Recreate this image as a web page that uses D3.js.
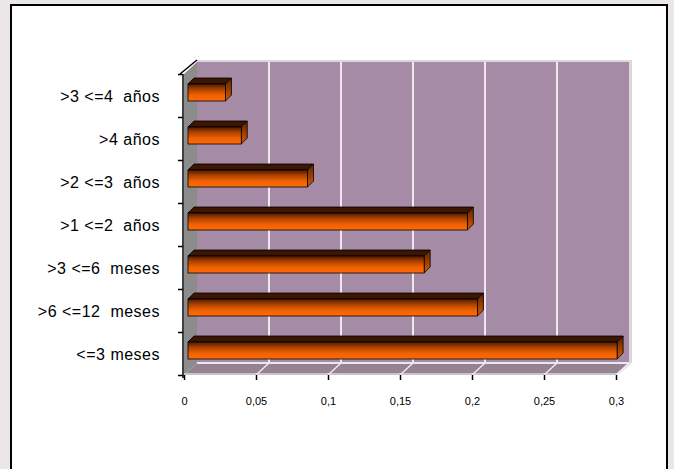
<!DOCTYPE html>
<html>
<head>
<meta charset="utf-8">
<script src="https://cdn.jsdelivr.net/npm/d3@7"></script>
<style>
  html, body { margin: 0; padding: 0; background: #ebe7e7; }
  svg { display: block; font-family: "Liberation Sans", Arial, sans-serif; }
</style>
</head>
<body>
<div id="chart"></div>
<script>
// categories, top to bottom as drawn
var categories = [">3 <=4  años", ">4 años", ">2 <=3  años", ">1 <=2  años",
                  ">3 <=6  meses", ">6 <=12  meses", "<=3 meses"];
var values = [0.026, 0.037, 0.083, 0.194, 0.164, 0.201, 0.298];
var xTicks = [0, 0.05, 0.1, 0.15, 0.2, 0.25, 0.3];

var width = 674
  , height = 469
  , front = { left: 184, right: 616, top: 74, bottom: 375 }
  , depth = { dx: 13, dy: -12 }      // offset of the back wall
  , barOff = { dx: 4, dy: -3 }       // bars sit a little behind the front plane
  , barDepth = { dx: 6, dy: -6 }
  , svg = d3.select("#chart").append("svg")
      .attr("width", width)
      .attr("height", height);

var locale = d3.formatLocale({ decimal: ",", thousands: ".", grouping: [3], currency: ["", "€"] })
  , fmt = locale.format("~g");

var x = d3.scaleLinear().domain([0, 0.3]).range([front.left, front.right]);
var y = d3.scaleBand().domain(categories).range([front.top, front.bottom]);
var yEdge = d3.scaleLinear().domain([0, categories.length]).range([front.top, front.bottom]);

// white card with black frame (bottom edge falls outside the picture)
svg.append("rect")
  .attr("x", 11).attr("y", 5)
  .attr("width", 656).attr("height", 480)
  .attr("fill", "#fff")
  .attr("stroke", "#000")
  .attr("stroke-width", 2);

var defs = svg.append("defs");
var g1 = defs.append("linearGradient").attr("id", "barFront")
  .attr("x1", 0).attr("y1", 0).attr("x2", 0).attr("y2", 1);
g1.append("stop").attr("offset", "0%").attr("stop-color", "#4a1a00");
g1.append("stop").attr("offset", "30%").attr("stop-color", "#a84000");
g1.append("stop").attr("offset", "65%").attr("stop-color", "#ee6000");
g1.append("stop").attr("offset", "100%").attr("stop-color", "#ff6c0a");
var g2 = defs.append("linearGradient").attr("id", "barSide")
  .attr("x1", 0).attr("y1", 0).attr("x2", 0).attr("y2", 1);
g2.append("stop").attr("offset", "0%").attr("stop-color", "#5a2200");
g2.append("stop").attr("offset", "100%").attr("stop-color", "#d85a00");

function pts(a) { return a.map(function(p) { return p[0] + "," + p[1]; }).join(" "); }

// back wall
var bw = { left: front.left + depth.dx, right: front.right + depth.dx,
           top: front.top + depth.dy, bottom: front.bottom + depth.dy };
svg.append("rect")
  .attr("x", bw.left).attr("y", bw.top - 2)
  .attr("width", bw.right - bw.left + 3).attr("height", bw.bottom - bw.top + 2)
  .attr("fill", "#dcd6dc");
svg.append("rect")
  .attr("x", bw.left).attr("y", bw.top)
  .attr("width", bw.right - bw.left).attr("height", bw.bottom - bw.top)
  .attr("fill", "#a58ba5");

// left wall
svg.append("polygon")
  .attr("points", pts([[front.left, front.top], [bw.left, bw.top],
                       [bw.left, bw.bottom], [front.left, front.bottom]]))
  .attr("fill", "#8c8c8c");

// floor
svg.append("polygon")
  .attr("points", pts([[front.left, front.bottom], [bw.left, bw.bottom],
                       [bw.right, bw.bottom], [front.right, front.bottom]]))
  .attr("fill", "#938393");
svg.append("line")
  .attr("x1", bw.left).attr("y1", bw.bottom).attr("x2", bw.right).attr("y2", bw.bottom)
  .attr("stroke", "#eee6ee").attr("stroke-width", 2);
svg.append("line")
  .attr("x1", front.left).attr("y1", front.bottom - 1).attr("x2", front.right).attr("y2", front.bottom - 1)
  .attr("stroke", "#c8c4c8").attr("stroke-width", 2);
svg.append("line")
  .attr("x1", front.right).attr("y1", front.bottom).attr("x2", bw.right + 2).attr("y2", bw.bottom)
  .attr("stroke", "#e4e0e4").attr("stroke-width", 2);

// gridlines on the back wall and across the floor
svg.selectAll(".grid").data(xTicks.slice(1, -1)).enter().append("line")
  .attr("class", "grid")
  .attr("x1", function(d) { return x(d) + depth.dx; })
  .attr("x2", function(d) { return x(d) + depth.dx; })
  .attr("y1", bw.top).attr("y2", bw.bottom)
  .attr("stroke", "#efe8ef").attr("stroke-width", 2);
svg.selectAll(".floorgrid").data(xTicks.slice(1)).enter().append("line")
  .attr("class", "floorgrid")
  .attr("x1", function(d) { return x(d); })
  .attr("y1", front.bottom)
  .attr("x2", function(d) { return x(d) + depth.dx; })
  .attr("y2", bw.bottom)
  .attr("stroke", "#efe8ef").attr("stroke-width", 1.5);

// bars
var barH = 17;
var bars = svg.selectAll(".bar").data(values).enter().append("g").attr("class", "bar");

bars.each(function(v, i) {
  var g = d3.select(this)
    , x0 = x(0) + barOff.dx
    , x1 = x(v) + barOff.dx
    , y0 = y(categories[i]) + 10
    , y1 = y0 + barH
    , dx = barDepth.dx, dy = barDepth.dy;
  // top face
  g.append("polygon")
    .attr("points", pts([[x0, y0], [x0 + dx, y0 + dy], [x1 + dx, y0 + dy], [x1, y0]]))
    .attr("fill", "#3c1600").attr("stroke", "#000").attr("stroke-width", 0.8);
  // right face
  g.append("polygon")
    .attr("points", pts([[x1, y0], [x1 + dx, y0 + dy], [x1 + dx, y1 + dy], [x1, y1]]))
    .attr("fill", "url(#barSide)").attr("stroke", "#000").attr("stroke-width", 0.8);
  // front face
  g.append("rect")
    .attr("x", x0).attr("y", y0)
    .attr("width", x1 - x0).attr("height", barH)
    .attr("fill", "url(#barFront)").attr("stroke", "#000").attr("stroke-width", 0.8);
});

// y axis: ticks on the category boundaries, line on the front edge
svg.append("g")
  .attr("transform", "translate(" + (front.left - 1) + ",0)")
  .call(d3.axisLeft(yEdge).ticks(categories.length).tickSize(5).tickFormat(""))
  .call(function(g) {
    g.select(".domain").attr("d", "M0," + front.top + "V" + (front.bottom + 3))
      .attr("stroke", "#000").attr("stroke-width", 1.5);
    g.selectAll(".tick line").attr("stroke", "#000").attr("stroke-width", 1.5);
  });
svg.append("line")
  .attr("x1", front.left - 4).attr("y1", front.top)
  .attr("x2", bw.left).attr("y2", bw.top - 2)
  .attr("stroke", "#000").attr("stroke-width", 1.5);

svg.selectAll(".ylab").data(categories).enter().append("text")
  .attr("class", "ylab")
  .attr("x", 160)
  .attr("y", function(d) { return y(d) + y.bandwidth() / 2 + 2; })
  .attr("text-anchor", "end")
  .attr("dominant-baseline", "middle")
  .style("white-space", "pre")
  .style("letter-spacing", "0.5px")
  .attr("font-size", 16)
  .attr("fill", "#000")
  .text(function(d) { return d; });

// x axis
svg.append("g")
  .attr("transform", "translate(0," + front.bottom + ")")
  .call(d3.axisBottom(x).tickValues(xTicks).tickSize(5).tickPadding(17).tickFormat(fmt))
  .call(function(g) {
    g.select(".domain").remove();
    g.selectAll(".tick line").attr("stroke", "#000").attr("stroke-width", 1.5);
    g.selectAll(".tick text").attr("font-size", 11).attr("fill", "#000")
      .attr("font-family", "\"Liberation Sans\", Arial, sans-serif");
  });
</script>
</body>
</html>
